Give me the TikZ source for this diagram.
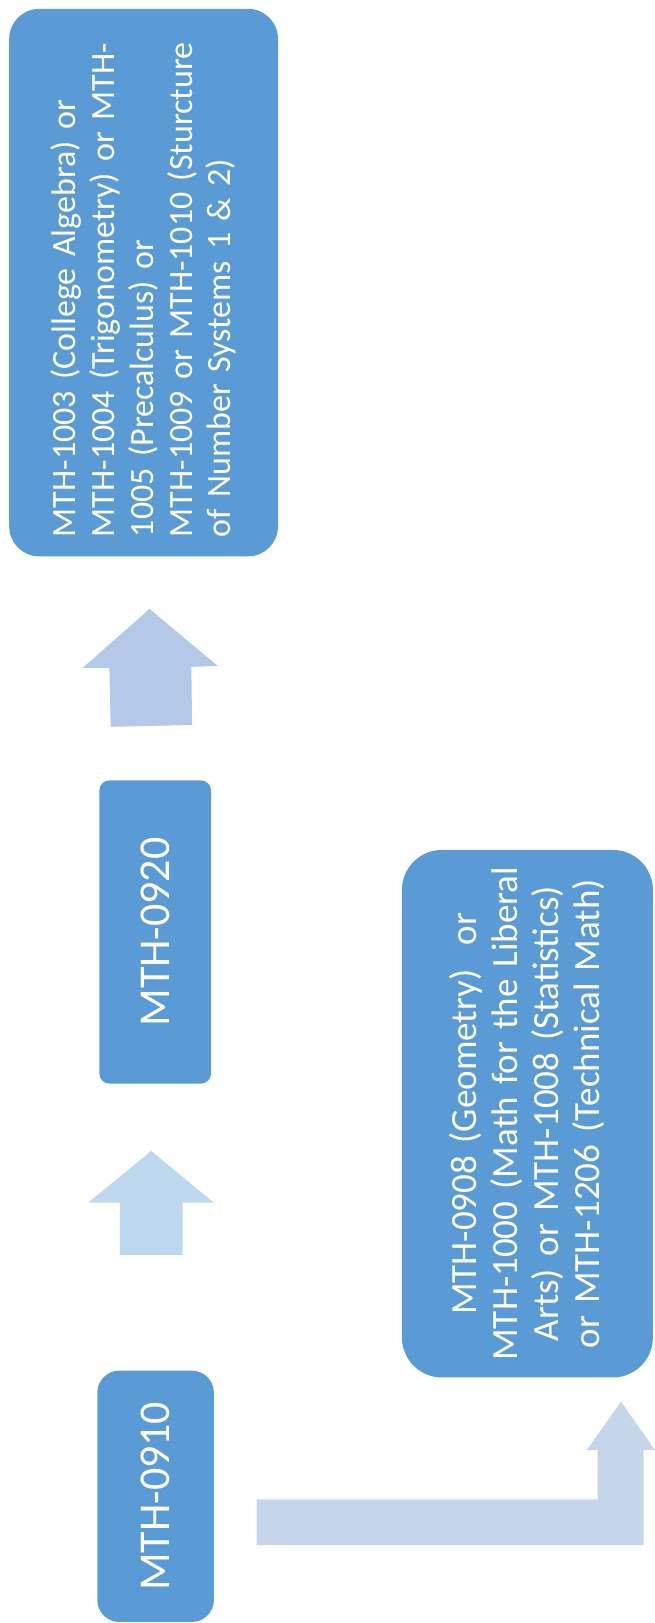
\documentclass[tikz,border=0pt]{standalone}
\usepackage{fontspec}
\setmainfont{Carlito}

\definecolor{boxblue}{rgb}{0.357,0.608,0.835}
\definecolor{arrowblue}{rgb}{0.706,0.784,0.906}
\definecolor{paleblue}{rgb}{0.741,0.843,0.933}
\definecolor{bentblue}{rgb}{0.773,0.835,0.918}

\begin{document}
\begin{tikzpicture}[x=1pt,y=-1pt,
    course/.style={rotate=90, fill=boxblue, text=white, inner sep=0pt}]
        \useasboundingbox (0,0) rectangle (655,1623);
        \node[course, rounded corners=30pt, minimum width=547.5pt, minimum height=268.8pt, text width=509pt, align=left,
              font=\fontsize{34}{38.8}\selectfont] (college) at (143.6,282.6)
              {\mbox{MTH-1003 (College Algebra) or}\\\mbox{MTH-1004 (Trigonometry) or MTH-}\\\mbox{1005 (Precalculus) or}\\\mbox{MTH-1009 or MTH-1010 (Sturcture}\\\mbox{of Number Systems 1 \& 2)}};
        \node[course, rounded corners=10pt, minimum width=303.2pt, minimum height=111.6pt,
              font=\fontsize{44}{48}\selectfont] (inter) at (155.2,932) {MTH-0920};
        \node[course, rounded corners=40pt, minimum width=527.5pt, minimum height=251pt, text width=500pt, align=center,
              font=\fontsize{37}{41}\selectfont] (liberal) at (527.4,1113.7)
              {MTH-0908 (Geometry)~ or\\MTH-1000 (Math for the Liberal\\Arts) or MTH-1008 (Statistics)\\or MTH-1206 (Technical Math)};
        \node[course, rounded corners=22pt, minimum width=251.3pt, minimum height=116.6pt,
              font=\fontsize{44}{48}\selectfont] (basic) at (155.6,1496.3) {MTH-0910};
        \fill[arrowblue] (149.5,608.9) -- (218,666.1) -- (191.3,666.8) -- (192.1,725) -- (110.7,726.8) -- (109.4,667.9) -- (82.7,667.9) -- cycle;  % 0920 up
        \fill[paleblue] (151.2,1151) -- (213.9,1202.7) -- (182.5,1202.7) -- (182.5,1254.8) -- (119.9,1254.8) -- (119.9,1202.7) -- (88.1,1202.7) -- cycle;  % 0910 up
        \fill[bentblue] (256.5,1499.3) -- (597.7,1499.3) -- (597.7,1450) -- (586.7,1450) -- (621,1401.7) -- (655,1450) -- (643.5,1450) -- (643.5,1545) -- (256.5,1545) -- cycle;  % bent
    \end{tikzpicture}
\end{document}
